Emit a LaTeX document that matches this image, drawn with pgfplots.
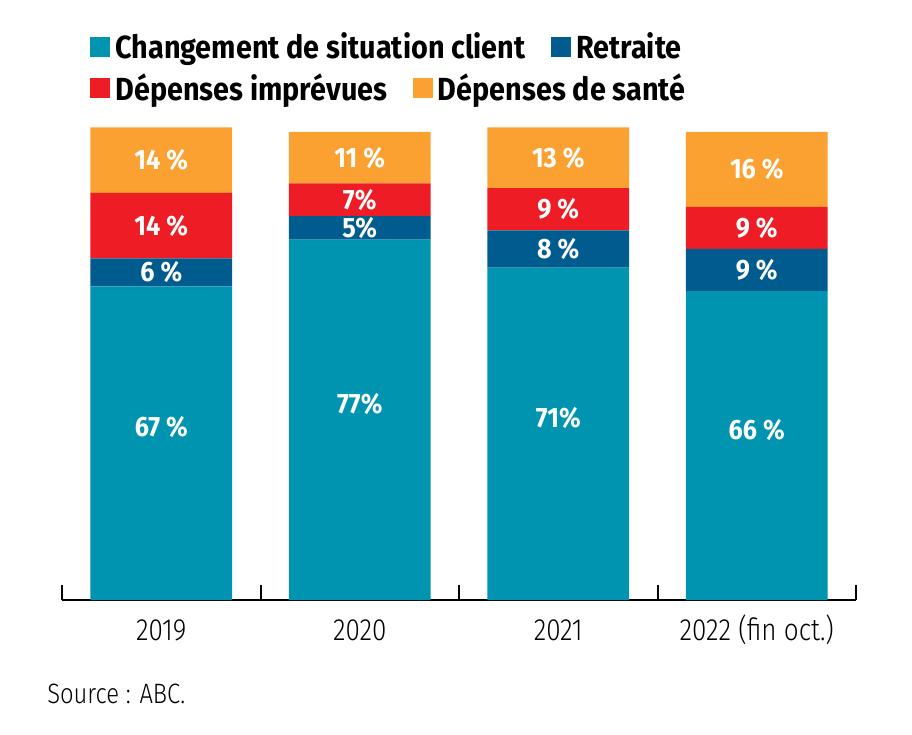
\documentclass[border=0pt]{standalone}
\usepackage{fontspec}
\setmainfont{Fira Sans}[FakeStretch=0.9]
\newfontfamily\lightfont{Fira Sans Light}[FakeStretch=0.85]
\usepackage{pgfplots}
\usepackage{pgfplotstable}
\pgfplotsset{compat=1.18}

\definecolor{cteal}{HTML}{0094B1}
\definecolor{cblue}{HTML}{005C8F}
\definecolor{cred}{HTML}{EE1C25}
\definecolor{corange}{HTML}{FBA131}

% one table per series: x position, share in %, label
\pgfplotstableread[col sep=comma]{
x,y,lab
0,67,67 \%
1,77,77\%
2,71,71\%
3,66,66 \%
}\changement
\pgfplotstableread[col sep=comma]{
x,y,lab
0,6,6 \%
1,5,5\%
2,8,8 \%
3,9,9 \%
}\retraite
\pgfplotstableread[col sep=comma]{
x,y,lab
0,14,14 \%
1,7,7\%
2,9,9 \%
3,9,9 \%
}\imprevues
\pgfplotstableread[col sep=comma]{
x,y,lab
0,14,14 \%
1,11,11 \%
2,13,13 \%
3,16,16 \%
}\sante

\pgfplotsset{
  sq legend/.style={legend image code/.code={\fill[##1] (0pt,-7.5pt) rectangle (15pt,7.5pt);}},
  common/.style={
    x=148.875pt, y=3.51pt,
    xmin=-0.5, xmax=3.5, ymin=0, ymax=101,
    at={(0,0)}, anchor=south west,
    sq legend,
    legend style={draw=none, fill=none, inner sep=0pt, outer sep=0pt,
      anchor=west, legend columns=-1,
      font=\fontsize{24}{28}\selectfont\bfseries,
      nodes={inner sep=0pt},
      /tikz/every odd column/.append style={column sep=4pt},
      /tikz/every even column/.append style={column sep=19pt}},
  },
}

\begin{document}
\begin{tikzpicture}
\path[use as bounding box] (-46.5pt,-100.5pt) rectangle (637.5pt,450pt);
\begin{axis}[common,
  ybar stacked, bar width=0.715,
  axis x line*=bottom, axis y line=none,
  axis line style={line width=1.5pt, -},
  xtick={0,1,2,3},
  xticklabels={2019,2020,2021,{2022 (fin oct.)}},
  major tick length=0pt,
  minor xtick={-0.5,0.5,1.5,2.5,3.5},
  minor tick length=11.25pt,
  xtick align=inside,
  every minor tick/.style={line width=1.5pt, black},
  xticklabel style={font=\lightfont\fontsize{23}{27}\selectfont, anchor=base, yshift=-30pt},
  point meta=explicit symbolic,
  nodes near coords,
  every node near coord/.append style={anchor=center, text=white,
    font=\fontsize{21}{25}\selectfont\bfseries},
  legend style={at={(0.0353,1.17)}},
]
\addplot[fill=cteal, draw=none, sq legend, nodes near coords style={yshift=12pt}]
  table[x=x, y=y, meta=lab] {\changement};
\addlegendentry{Changement de situation client}
\addplot[fill=cblue, draw=none, sq legend] table[x=x, y=y, meta=lab] {\retraite};
\addlegendentry{Retraite}
\addplot[fill=cred, draw=none] table[x=x, y=y, meta=lab] {\imprevues};
\addplot[fill=corange, draw=none] table[x=x, y=y, meta=lab] {\sante};
\end{axis}
\begin{axis}[common, hide axis, legend style={at={(0.0353,1.083)}}]
\addlegendimage{fill=cred, draw=none}
\addlegendentry{Dépenses imprévues}
\addlegendimage{fill=corange, draw=none}
\addlegendentry{Dépenses de santé}
\end{axis}
\node[anchor=base west, inner sep=0pt, font=\lightfont\fontsize{21}{25}\selectfont] at (-11.25pt,-77.25pt) {Source : ABC.};
\end{tikzpicture}
\end{document}
